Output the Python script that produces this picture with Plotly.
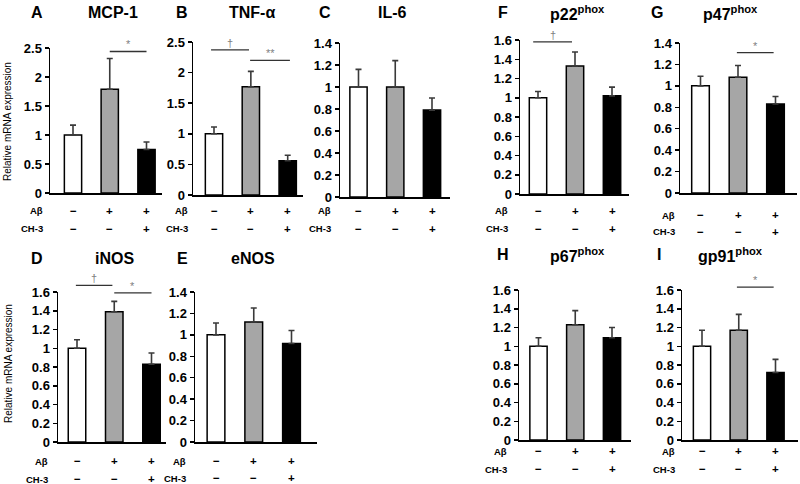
import plotly.graph_objects as go

W, H = 800, 484
FONT = "Liberation Sans, Arial, sans-serif"

# ---------------- data ----------------
categories = [0, 1, 2]  # Control, Aβ, Aβ + CH-3
abeta_row = ["−", "+", "+"]
ch3_row = ["−", "−", "+"]
bar_colors = ["#ffffff", "#a6a6a6", "#000000"]

mcp1_mean = [1.00, 1.79, 0.75]
mcp1_err = [0.17, 0.53, 0.13]
tnfa_mean = [1.00, 1.77, 0.56]
tnfa_err = [0.11, 0.25, 0.09]
il6_mean = [1.00, 1.00, 0.79]
il6_err = [0.16, 0.24, 0.11]
inos_mean = [1.00, 1.39, 0.83]
inos_err = [0.09, 0.11, 0.12]
enos_mean = [1.00, 1.12, 0.92]
enos_err = [0.11, 0.13, 0.12]
p22_mean = [1.00, 1.33, 1.02]
p22_err = [0.065, 0.145, 0.09]
p47_mean = [1.00, 1.08, 0.83]
p47_err = [0.09, 0.11, 0.07]
p67_mean = [1.00, 1.23, 1.09]
p67_err = [0.09, 0.15, 0.11]
gp91_mean = [1.00, 1.17, 0.72]
gp91_err = [0.17, 0.17, 0.14]

ticks_25 = [0, 0.5, 1, 1.5, 2, 2.5]
ticklabels_25 = ["0", "0.5", "1", "1.5", "2", "2.5"]
ticks_14 = [0, 0.2, 0.4, 0.6, 0.8, 1.0, 1.2, 1.4]
ticklabels_14 = ["0", "0.2", "0.4", "0.6", "0.8", "1", "1.2", "1.4"]
ticks_16 = [0, 0.2, 0.4, 0.6, 0.8, 1.0, 1.2, 1.4, 1.6]
ticklabels_16 = ["0", "0.2", "0.4", "0.6", "0.8", "1", "1.2", "1.4", "1.6"]

# significance: panel letter, x from, x to, y level, marker
sig_panel = ["A", "B", "B", "D", "D", "F", "G", "I"]
sig_x0 = [1.0, -0.08, 0.98, -0.03, 1.0, -0.13, 0.97, 0.95]
sig_x1 = [2.0, 0.95, 2.06, 0.95, 2.0, 0.92, 1.95, 1.95]
sig_y = [2.44, 2.37, 2.20, 1.67, 1.59, 1.58, 1.31, 1.63]
sig_text = ["*", "†", "**", "†", "*", "†", "*", "*"]

# ---------------- layout of panels (pixel geometry on the page) ----------------
panels = [
    dict(letter="A", title="MCP-1", mean=mcp1_mean, err=mcp1_err, tv=ticks_25, tt=ticklabels_25,
         ax=50, ex=162, c0=73, c2=146.5, top=48, zero=193, lab=45, r1=211, r2=229, ty=13, lx=37, tx=113),
    dict(letter="B", title="TNF-α", mean=tnfa_mean, err=tnfa_err, tv=ticks_25, tt=ticklabels_25,
         ax=193, ex=303, c0=214, c2=287.7, top=42, zero=195, lab=190, r1=211, r2=229, ty=13, lx=182, tx=252),
    dict(letter="C", title="IL-6", mean=il6_mean, err=il6_err, tv=ticks_14, tt=ticklabels_14,
         ax=340, ex=450, c0=358.5, c2=432, top=43, zero=197, lab=333, r1=211, r2=229, ty=13, lx=325, tx=392),
    dict(letter="D", title="iNOS", mean=inos_mean, err=inos_err, tv=ticks_16, tt=ticklabels_16,
         ax=58, ex=166, c0=77, c2=151.5, top=292, zero=442, lab=50, r1=461, r2=479, ty=258, lx=37, tx=115),
    dict(letter="E", title="eNOS", mean=enos_mean, err=enos_err, tv=ticks_14, tt=ticklabels_14,
         ax=195, ex=317, c0=216, c2=291.5, top=292, zero=442, lab=188, r1=461, r2=478, ty=258, lx=182, tx=253),
    dict(letter="F", title="p22<sup>phox</sup>", mean=p22_mean, err=p22_err, tv=ticks_16, tt=ticklabels_16,
         ax=520, ex=629, c0=538, c2=612, top=40, zero=194, lab=510, r1=211, r2=229, ty=13, lx=503, tx=577),
    dict(letter="G", title="p47<sup>phox</sup>", mean=p47_mean, err=p47_err, tv=ticks_14, tt=ticklabels_14,
         ax=680, ex=797, c0=700.5, c2=775.5, top=43, zero=193, lab=677, r1=215, r2=232, ty=13, lx=657, tx=730),
    dict(letter="H", title="p67<sup>phox</sup>", mean=p67_mean, err=p67_err, tv=ticks_16, tt=ticklabels_16,
         ax=519, ex=631, c0=538.5, c2=612, top=290, zero=440, lab=509, r1=451, r2=469, ty=255, lx=503, tx=577),
    dict(letter="I", title="gp91<sup>phox</sup>", mean=gp91_mean, err=gp91_err, tv=ticks_16, tt=ticklabels_16,
         ax=682, ex=798, c0=702, c2=775.5, top=290, zero=440, lab=677, r1=451, r2=469, ty=255, lx=659, tx=730),
]


def fx(px):
    return px / W


def fy(py):
    return 1 - py / H


fig = go.Figure()
annotations = []
shapes = []
index_of = {}


def pann(text, px, py, size, xanchor="center", **kw):
    d = dict(text=text, x=fx(px), y=fy(py), xref="paper", yref="paper",
             xanchor=xanchor, yanchor="middle", showarrow=False,
             font=dict(family=FONT, size=size, color="black"))
    d.update(kw)
    return d


for i, p in enumerate(panels):
    n = i + 1
    xn = "x" if n == 1 else f"x{n}"
    yn = "y" if n == 1 else f"y{n}"
    index_of[p["letter"]] = (n, xn, yn)
    s = (p["c2"] - p["c0"]) / 2.0
    r0 = (p["ax"] - p["c0"]) / s
    r1 = (p["ex"] - p["c0"]) / s
    p["xr"] = (r0, r1)
    ymax = p["tv"][-1]

    fig.add_trace(go.Bar(
        x=categories, y=p["mean"], width=0.47,
        marker=dict(color=bar_colors, line=dict(color="black", width=1.5)),
        error_y=dict(type="data", array=p["err"], arrayminus=[0, 0, 0], symmetric=False,
                     color="#3a3a3a", thickness=1.6, width=3),
        xaxis=xn, yaxis=yn, showlegend=False, hoverinfo="skip",
    ))

    fig.layout["xaxis" + ("" if n == 1 else str(n))] = dict(
        domain=[fx(p["ax"]), fx(p["ex"])], range=[r0, r1], anchor=yn,
        showline=True, linecolor="black", linewidth=1.5, showticklabels=False,
        ticks="", showgrid=False, zeroline=False, fixedrange=True, automargin=False,
    )
    fig.layout["yaxis" + ("" if n == 1 else str(n))] = dict(
        domain=[fy(p["zero"]), fy(p["top"])], range=[0, ymax], anchor=xn,
        tickvals=p["tv"], ticktext=p["tt"], ticks="outside", ticklen=4,
        tickcolor="black", tickwidth=1.5, showline=True, linecolor="black", linewidth=1.5,
        showgrid=False, zeroline=False, fixedrange=True, automargin=False,
        tickfont=dict(family=FONT, size=13, color="black", weight="bold"),
    )

    annotations.append(pann(f"<b>{p['letter']}</b>", p["lx"], p["ty"], 16))
    annotations.append(pann(f"<b>{p['title']}</b>", p["tx"], p["ty"], 16))
    for label, row, ry in (("Aβ", abeta_row, p["r1"]), ("CH-3", ch3_row, p["r2"])):
        annotations.append(pann(f"<b>{label}</b>", p["lab"], ry, 9.5, xanchor="right"))
        for c, sgn in zip(categories, row):
            annotations.append(dict(text=f"<b>{sgn}</b>", x=c, y=fy(ry),
                                    xref=xn, yref="paper", xanchor="center", yanchor="middle",
                                    showarrow=False,
                                    font=dict(family=FONT, size=11.5, color="black")))

# significance lines and markers
for pl, x0, x1, yv, t in zip(sig_panel, sig_x0, sig_x1, sig_y, sig_text):
    n, xn, yn = index_of[pl]
    p = panels[n - 1]
    r0, r1 = p["xr"]
    ymax = p["tv"][-1]
    dx0 = (x0 - r0) / (r1 - r0)
    dx1 = (x1 - r0) / (r1 - r0)
    dy = yv / ymax
    shapes.append(dict(type="line", xref=f"{xn} domain", yref=f"{yn} domain",
                       x0=dx0, x1=dx1, y0=dy, y1=dy,
                       line=dict(color="#333333", width=1.3)))
    annotations.append(dict(text=t, xref=f"{xn} domain", yref=f"{yn} domain",
                            x=(dx0 + dx1) / 2, y=dy, xanchor="center", yanchor="bottom",
                            showarrow=False, yshift=-1,
                            font=dict(family=FONT, size=11, color="#808080")))

for yc in (122, 364):
    annotations.append(pann("Relative mRNA expression", 8, yc, 10, textangle=-90))

fig.update_layout(
    width=W, height=H, margin=dict(l=0, r=0, t=0, b=0, pad=0, autoexpand=False),
    paper_bgcolor="white", plot_bgcolor="white",
    annotations=annotations, shapes=shapes, showlegend=False,
    font=dict(family=FONT), hovermode=False,
)

fig.write_html("out.html",
               config={"displayModeBar": False, "staticPlot": True},
               post_script="document.body.style.margin='0';document.body.style.padding='0';")
